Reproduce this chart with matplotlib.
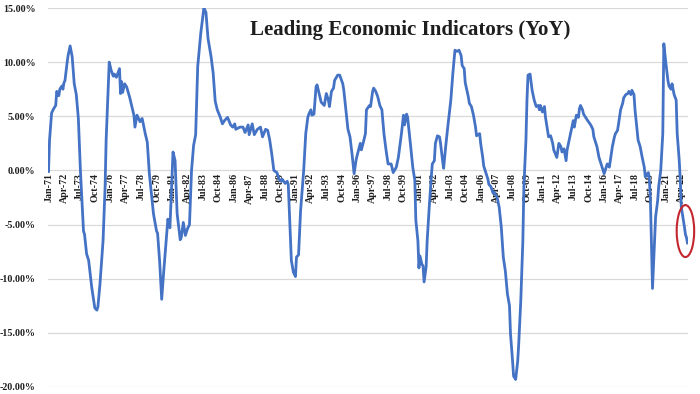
"""Leading Economic Indicators, year-over-year change, Jan-71 .. Oct-22."""
from datetime import datetime

import matplotlib
matplotlib.use("Agg")
import matplotlib.pyplot as plt
from matplotlib.patches import Ellipse

TITLE = "Leading Economic Indicators (YoY)"
LINE = "#4472C4"    # excel blue
GRID = "#D9D9D9"
RING = "#C4262E"    # red highlight round the latest prints
TEXT = "#1E1E1E"

# readings taken off the chart (month, % yoy)
months = [
    "1971-01", "1971-02", "1971-04", "1971-06", "1971-08", "1971-09", "1971-11", "1971-12",
    "1972-02", "1972-03", "1972-04", "1972-05", "1972-07", "1972-08", "1972-10", "1972-12",
    "1973-02", "1973-04", "1973-06", "1973-08", "1973-11", "1973-12", "1974-02", "1974-04",
    "1974-07", "1974-10", "1974-12", "1975-01", "1975-03", "1975-06", "1975-08", "1975-09",
    "1975-12", "1976-02", "1976-04", "1976-05", "1976-07", "1976-10", "1976-11", "1976-12",
    "1977-01", "1977-03", "1977-05", "1977-08", "1977-12", "1978-01", "1978-03", "1978-06",
    "1978-08", "1978-11", "1979-01", "1979-03", "1979-07", "1979-10", "1979-11", "1980-01",
    "1980-03", "1980-05", "1980-09", "1980-11", "1981-02", "1981-04", "1981-05", "1981-06",
    "1981-09", "1981-10", "1981-12", "1982-02", "1982-04", "1982-06", "1982-08", "1982-10",
    "1982-12", "1983-02", "1983-05", "1983-08", "1983-10", "1983-12", "1984-03", "1984-05",
    "1984-07", "1984-09", "1984-12", "1985-02", "1985-04", "1985-07", "1985-10", "1985-12",
    "1986-02", "1986-03", "1986-07", "1986-10", "1986-12", "1987-03", "1987-04", "1987-07",
    "1987-09", "1987-12", "1988-03", "1988-05", "1988-08", "1988-10", "1988-12", "1989-02",
    "1989-04", "1989-07", "1989-09", "1989-11", "1989-12", "1990-03", "1990-05", "1990-06",
    "1990-08", "1990-09", "1990-11", "1991-01", "1991-02", "1991-04", "1991-06", "1991-09",
    "1991-11", "1992-01", "1992-02", "1992-04", "1992-05", "1992-07", "1992-09", "1992-10",
    "1992-12", "1993-02", "1993-05", "1993-07", "1993-09", "1993-10", "1993-12", "1994-02",
    "1994-03", "1994-06", "1994-08", "1994-11", "1994-12", "1995-02", "1995-04", "1995-06",
    "1995-08", "1995-10", "1995-12", "1996-01", "1996-04", "1996-05", "1996-07", "1996-09",
    "1996-10", "1997-01", "1997-02", "1997-04", "1997-05", "1997-07", "1997-09", "1997-11",
    "1998-01", "1998-03", "1998-05", "1998-07", "1998-10", "1998-12", "1999-03", "1999-05",
    "1999-08", "1999-10", "1999-11", "2000-01", "2000-02", "2000-04", "2000-05", "2000-07",
    "2000-09", "2000-10", "2000-12", "2001-01", "2001-02", "2001-04", "2001-05", "2001-06",
    "2001-08", "2001-09", "2001-11", "2002-01", "2002-02", "2002-04", "2002-05", "2002-07",
    "2002-09", "2002-10", "2002-12", "2003-01", "2003-03", "2003-05", "2003-08", "2003-10",
    "2003-12", "2004-02", "2004-04", "2004-06", "2004-07", "2004-09", "2004-10", "2005-01",
    "2005-02", "2005-04", "2005-06", "2005-08", "2005-09", "2005-12", "2006-01", "2006-03",
    "2006-04", "2006-06", "2006-08", "2006-09", "2006-11", "2007-01", "2007-02", "2007-05",
    "2007-07", "2007-09", "2007-11", "2008-01", "2008-03", "2008-05", "2008-06", "2008-08",
    "2008-09", "2008-11", "2009-01", "2009-02", "2009-04", "2009-06", "2009-07", "2009-09",
    "2009-10", "2009-11", "2010-01", "2010-03", "2010-05", "2010-07", "2010-09", "2010-10",
    "2010-11", "2011-01", "2011-03", "2011-04", "2011-06", "2011-07", "2011-09", "2011-11",
    "2011-12", "2012-03", "2012-05", "2012-07", "2012-08", "2012-10", "2012-12", "2013-01",
    "2013-03", "2013-05", "2013-07", "2013-08", "2013-10", "2013-12", "2014-01", "2014-02",
    "2014-04", "2014-05", "2014-07", "2014-09", "2014-12", "2015-02", "2015-03", "2015-05",
    "2015-06", "2015-08", "2015-10", "2015-11", "2016-01", "2016-03", "2016-04", "2016-06",
    "2016-07", "2016-09", "2016-11", "2016-12", "2017-02", "2017-03", "2017-05", "2017-07",
    "2017-08", "2017-10", "2017-12", "2018-01", "2018-03", "2018-04", "2018-06", "2018-07",
    "2018-09", "2018-10", "2018-12", "2019-02", "2019-04", "2019-05", "2019-07", "2019-08",
    "2019-09", "2019-10", "2019-12", "2020-02", "2020-03", "2020-05", "2020-06", "2020-08",
    "2020-10", "2020-11", "2021-01", "2021-03", "2021-04", "2021-06", "2021-07", "2021-09",
    "2021-11", "2021-12", "2022-02", "2022-03", "2022-04", "2022-05", "2022-07", "2022-08",
    "2022-09", "2022-10",
]
yoy = [
    -0.1, 2.8, 5.3, 5.7, 6.0, 7.3, 6.9, 7.5,
    7.8, 7.5, 8.1, 8.3, 9.9, 10.6, 11.5, 10.5,
    8.0, 7.0, 4.8, 0.0, -5.6, -5.9, -7.7, -8.3,
    -10.8, -12.7, -12.9, -12.6, -10.5, -6.5, -1.5, 2.8,
    10.0, 9.2, 8.7, 8.9, 8.6, 9.4, 7.1, 8.2,
    7.2, 8.0, 7.7, 6.7, 5.1, 4.0, 5.1, 4.5,
    4.8, 3.4, 2.6, -0.3, -4.0, -5.6, -5.8, -8.4,
    -11.9, -9.3, -4.5, -5.3, 1.7, 0.9, -1.5, -4.0,
    -6.4, -6.2, -4.8, -6.0, -5.4, -5.0, 0.0, 2.3,
    3.3, 9.6, 12.7, 15.0, 14.6, 12.2, 10.5, 9.0,
    6.4, 5.6, 4.9, 4.3, 4.6, 4.9, 4.2, 4.0,
    4.3, 3.8, 4.0, 4.0, 3.5, 4.2, 3.3, 4.3,
    3.3, 3.8, 4.0, 3.1, 3.8, 3.7, 2.8, 1.5,
    0.0, -0.2, -0.8, -1.0, -0.8, -1.2, -1.0, -1.3,
    -5.9, -8.3, -9.4, -9.8, -8.0, -7.8, -3.7, 0.0,
    3.4, 4.9, 5.2, 5.6, 5.1, 5.2, 7.7, 7.9,
    7.1, 6.3, 6.0, 7.1, 6.5, 5.9, 7.3, 7.6,
    8.3, 8.8, 8.8, 8.0, 7.4, 5.6, 3.8, 3.1,
    1.5, -0.3, 1.0, 1.4, 2.5, 1.9, 2.6, 3.4,
    5.6, 6.0, 5.9, 7.3, 7.6, 7.3, 6.8, 6.0,
    5.6, 3.4, 1.9, 0.6, 0.6, -0.2, 0.3, 1.2,
    3.4, 5.1, 4.2, 5.2, 4.9, 3.1, 2.2, 0.3,
    -0.9, -4.6, -6.5, -9.0, -7.9, -8.7, -8.8, -10.3,
    -8.9, -6.5, -3.4, -0.6, 0.6, 0.9, 2.5, 3.2,
    3.1, 2.5, 0.9, 0.2, 2.2, 4.0, 6.5, 9.0,
    11.1, 11.0, 11.1, 10.6, 9.7, 9.4, 8.1, 6.8,
    6.2, 5.9, 5.1, 4.0, 3.2, 3.4, 2.5, 1.2,
    0.4, -0.2, -0.8, -1.3, -1.5, -2.1, -2.0, -2.5,
    -3.4, -5.2, -8.0, -9.3, -11.4, -12.5, -15.1, -17.6,
    -19.0, -19.3, -17.6, -16.0, -12.0, -6.5, -1.5, 2.8,
    6.5, 8.8, 8.9, 7.4, 6.5, 5.9, 6.0, 5.6,
    6.0, 5.4, 5.9, 4.9, 3.7, 3.1, 3.2, 2.5,
    1.9, 1.2, 2.5, 2.2, 1.7, 2.0, 0.9, 1.9,
    2.8, 3.7, 4.6, 4.0, 5.1, 4.9, 5.7, 6.0,
    5.6, 5.2, 4.9, 4.6, 4.2, 3.8, 3.1, 2.5,
    2.2, 1.2, 0.6, 0.3, -0.3, 0.3, 0.6, 0.3,
    0.9, 2.2, 3.1, 3.4, 3.7, 4.3, 5.6, 6.2,
    6.7, 7.0, 7.1, 7.3, 7.0, 7.4, 7.0, 5.6,
    3.7, 2.8, 2.2, 1.2, 0.3, -0.6, -0.3, -0.2,
    -0.9, -2.8, -10.9, -6.5, -4.3, -2.8, -1.5, 0.0,
    3.4, 11.7, 9.9, 8.3, 7.8, 7.5, 8.0, 7.0,
    6.5, 3.4, 0.9, -0.9, -3.4, -4.0, -5.2, -5.9,
    -6.2, -6.7,
]

tick_labels = [
    "Jan-71", "Apr-72", "Jul-73", "Oct-74", "Jan-76", "Apr-77", "Jul-78", "Oct-79",
    "Jan-81", "Apr-82", "Jul-83", "Oct-84", "Jan-86", "Apr-87", "Jul-88", "Oct-89",
    "Jan-91", "Apr-92", "Jul-93", "Oct-94", "Jan-96", "Apr-97", "Jul-98", "Oct-99",
    "Jan-01", "Apr-02", "Jul-03", "Oct-04", "Jan-06", "Apr-07", "Jul-08", "Oct-09",
    "Jan-11", "Apr-12", "Jul-13", "Oct-14", "Jan-16", "Apr-17", "Jul-18", "Oct-19",
    "Jan-21", "Apr-22",
]
y_ticks = [-20, -15, -10, -5, 0, 5, 10, 15]


def month_index(s, fmt):
    d = datetime.strptime(s, fmt)
    return (d.year - 1971) * 12 + d.month - 1


def main():
    plt.rcParams["font.family"] = ["Liberation Serif", "DejaVu Serif"]
    plt.rcParams["font.weight"] = "bold"

    x = [month_index(m, "%Y-%m") for m in months]
    ticks = [month_index(t, "%b-%y") for t in tick_labels]

    fig = plt.figure(figsize=(7.0, 3.94), dpi=100)
    ax = fig.add_axes([48 / 700, 7 / 394, 640 / 700, 379 / 394])

    ax.plot(x, yoy, color=LINE, lw=2.0, solid_joinstyle="round", zorder=3)

    # category labels hang off the zero line, like the excel original
    # (set the spine position first: it rebuilds the ticks)
    ax.spines["bottom"].set_position(("data", 0))
    for s in ax.spines.values():
        s.set_visible(False)

    ax.set_xlim(-0.5, x[-1] + 0.5)
    ax.set_ylim(y_ticks[0], y_ticks[-1])
    ax.set_yticks(y_ticks)
    ax.set_yticklabels([f"{v:.2f}%" for v in y_ticks])
    ax.set_xticks(ticks)
    ax.set_xticklabels(tick_labels)

    ax.grid(axis="y", color=GRID, lw=0.9)
    ax.set_axisbelow(True)
    ax.tick_params(length=0, colors=TEXT)
    ax.tick_params(axis="y", pad=9, labelsize=7.2)
    ax.tick_params(axis="x", pad=2, labelsize=7.2, labelrotation=90)

    ax.text(0.566, 0.942, TITLE, transform=ax.transAxes, ha="center", va="center",
            fontsize=15, fontweight="bold", color=TEXT)

    # ring round the latest readings
    cx = x[-1] - 2
    cy = sum(yoy[-5:]) / 5
    ax.add_patch(Ellipse((cx, cy), width=17, height=4.8, fill=False,
                         ec=RING, lw=1.5, clip_on=False, zorder=4))

    fig.savefig("out.png", dpi=100)
    plt.close(fig)


if __name__ == "__main__":
    main()
